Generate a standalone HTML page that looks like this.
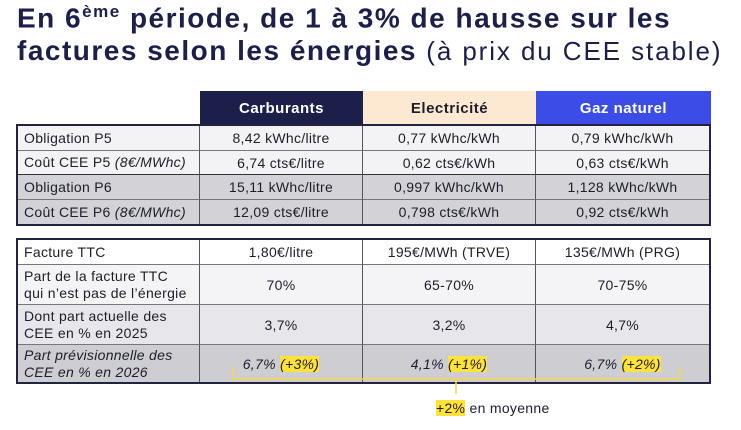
<!DOCTYPE html>
<html><head><meta charset="utf-8"><style>
body{margin:0;width:741px;height:430px;background:#fff;font-family:"Liberation Sans","DejaVu Sans",sans-serif;color:#1d1d2b;position:relative;overflow:hidden}
.t{position:absolute;left:17px;font-weight:bold;font-size:28px;color:#1b1f4a;white-space:nowrap;letter-spacing:1.5px}
.c{position:absolute;box-sizing:border-box;display:flex;align-items:center;justify-content:center;font-size:14px;letter-spacing:0.3px;border-right:1px solid #555;border-bottom:1px solid #777}
.l{justify-content:flex-start;padding-left:6px;line-height:17px}
.h{font-weight:bold;font-size:15px;letter-spacing:0.5px}
.y{background:#fde23a}
.tab{position:absolute;border:2px solid #22243d;box-sizing:border-box}
</style></head><body>
<div class="t" style="top:2px">En 6<sup style="font-size:17px">ème</sup> période, de 1 à 3% de hausse sur les</div>
<div class="t" style="top:35px">factures selon les énergies <span style="font-weight:normal;font-size:26px;letter-spacing:1.9px">(à prix du CEE stable)</span></div>

<div class="c h" style="left:200px;top:91px;width:163px;height:35px;background:#1c1f4a;color:#fff;border:none">Carburants</div>
<div class="c h" style="left:363px;top:91px;width:173px;height:35px;background:#fde8d2;color:#1d1d2b;border:none">Electricité</div>
<div class="c h" style="left:536px;top:91px;width:175px;height:35px;background:#3b4de6;color:#fff;border:none">Gaz naturel</div>

<div class="tab" style="left:16px;top:124px;width:695px;height:102px"></div>
<div class="c l" style="left:18px;top:126px;width:182px;height:25px;background:#f3f3f5">Obligation P5</div>
<div class="c" style="left:200px;top:126px;width:163px;height:25px;background:#f3f3f5">8,42 kWhc/litre</div>
<div class="c" style="left:363px;top:126px;width:173px;height:25px;background:#f3f3f5">0,77 kWhc/kWh</div>
<div class="c" style="left:536px;top:126px;width:173px;height:25px;background:#f3f3f5;border-right:none">0,79 kWhc/kWh</div>
<div class="c l" style="left:18px;top:151px;width:182px;height:24px;background:#f3f3f5;border-bottom:1px solid #333">Coût CEE P5&nbsp;<i>(8€/MWhc)</i></div>
<div class="c" style="left:200px;top:151px;width:163px;height:24px;background:#f3f3f5;border-bottom:1px solid #333">6,74 cts€/litre</div>
<div class="c" style="left:363px;top:151px;width:173px;height:24px;background:#f3f3f5;border-bottom:1px solid #333">0,62 cts€/kWh</div>
<div class="c" style="left:536px;top:151px;width:173px;height:24px;background:#f3f3f5;border-bottom:1px solid #333;border-right:none">0,63 cts€/kWh</div>
<div class="c l" style="left:18px;top:175px;width:182px;height:25px;background:#d2d2d7">Obligation P6</div>
<div class="c" style="left:200px;top:175px;width:163px;height:25px;background:#d2d2d7">15,11 kWhc/litre</div>
<div class="c" style="left:363px;top:175px;width:173px;height:25px;background:#d2d2d7">0,997 kWhc/kWh</div>
<div class="c" style="left:536px;top:175px;width:173px;height:25px;background:#d2d2d7;border-right:none">1,128 kWhc/kWh</div>
<div class="c l" style="left:18px;top:200px;width:182px;height:24px;background:#d2d2d7;border-bottom:none">Coût CEE P6&nbsp;<i>(8€/MWhc)</i></div>
<div class="c" style="left:200px;top:200px;width:163px;height:24px;background:#d2d2d7;border-bottom:none">12,09 cts€/litre</div>
<div class="c" style="left:363px;top:200px;width:173px;height:24px;background:#d2d2d7;border-bottom:none">0,798 cts€/kWh</div>
<div class="c" style="left:536px;top:200px;width:173px;height:24px;background:#d2d2d7;border-bottom:none;border-right:none">0,92 cts€/kWh</div>

<div class="tab" style="left:16px;top:238px;width:695px;height:146px"></div>
<div class="c l" style="left:18px;top:240px;width:182px;height:25px;background:#fff">Facture TTC</div>
<div class="c" style="left:200px;top:240px;width:163px;height:25px;background:#fff">1,80€/litre</div>
<div class="c" style="left:363px;top:240px;width:173px;height:25px;background:#fff">195€/MWh (TRVE)</div>
<div class="c" style="left:536px;top:240px;width:173px;height:25px;background:#fff;border-right:none">135€/MWh (PRG)</div>
<div class="c l" style="left:18px;top:265px;width:182px;height:40px;background:#f4f4f6">Part de la facture TTC<br>qui n’est pas de l’énergie</div>
<div class="c" style="left:200px;top:265px;width:163px;height:40px;background:#f4f4f6">70%</div>
<div class="c" style="left:363px;top:265px;width:173px;height:40px;background:#f4f4f6">65-70%</div>
<div class="c" style="left:536px;top:265px;width:173px;height:40px;background:#f4f4f6;border-right:none">70-75%</div>
<div class="c l" style="left:18px;top:305px;width:182px;height:40px;background:#e7e7eb">Dont part actuelle des<br>CEE en % en 2025</div>
<div class="c" style="left:200px;top:305px;width:163px;height:40px;background:#e7e7eb">3,7%</div>
<div class="c" style="left:363px;top:305px;width:173px;height:40px;background:#e7e7eb">3,2%</div>
<div class="c" style="left:536px;top:305px;width:173px;height:40px;background:#e7e7eb;border-right:none">4,7%</div>
<div class="c l" style="left:18px;top:345px;width:182px;height:37px;background:#cdcdd2;border-bottom:none"><i>Part prévisionnelle des<br>CEE en % en 2026</i></div>
<div class="c" style="left:200px;top:345px;width:163px;height:37px;background:#cdcdd2;border-bottom:none"><i>6,7% <span class="y">(+3%)</span></i></div>
<div class="c" style="left:363px;top:345px;width:173px;height:37px;background:#cdcdd2;border-bottom:none"><i>4,1% <span class="y">(+1%)</span></i></div>
<div class="c" style="left:536px;top:345px;width:173px;height:37px;background:#cdcdd2;border-bottom:none;border-right:none"><i>6,7% <span class="y">(+2%)</span></i></div>

<svg style="position:absolute;left:0;top:0" width="741" height="430">
<path d="M233 367 V379 H680 V367 M456 379 V394" fill="none" stroke="#f3d94a" stroke-width="1.5"/>
</svg>
<div style="position:absolute;left:436px;top:400px;font-size:14px;letter-spacing:0.3px"><span class="y">+2%</span> en moyenne</div>
</body></html>
